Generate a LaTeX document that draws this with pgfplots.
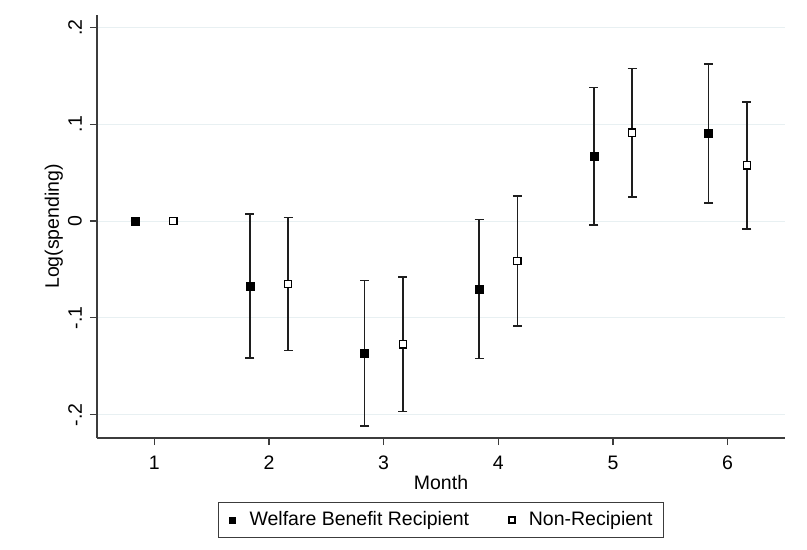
\documentclass[border=0pt]{standalone}
\usepackage{fontspec}
\setmainfont{Liberation Sans}
\usepackage{pgfplots}
\usepackage{pgfplotstable}
\pgfplotsset{compat=1.18}

\definecolor{gridc}{RGB}{232,240,242}
\definecolor{axc}{RGB}{60,60,60}
\definecolor{barc}{RGB}{30,30,30}

% Small single square in the legend
\pgfplotsset{sqlegend/.style={legend image code/.code={\draw[##1, mark size=3bp] plot coordinates {(0bp,0bp)};}}}

% Point estimates and half-widths of the confidence intervals
\pgfplotstableread{
x      y        e
0.8333  0.0000  0.0000
1.8333 -0.0671  0.0743
2.8333 -0.1366  0.0752
3.8333 -0.0702  0.0718
4.8333  0.0671  0.0709
5.8333  0.0902  0.0718
}\welfare

\pgfplotstableread{
x      y        e
1.1667  0.0000  0.0000
2.1667 -0.0650  0.0687
3.1667 -0.1273  0.0694
4.1667 -0.0413  0.0672
5.1667  0.0912  0.0663
6.1667  0.0575  0.0655
}\nonrecip

\begin{document}
\fontsize{19.5bp}{23bp}\selectfont
\begin{tikzpicture}[font=\fontsize{19.5bp}{23bp}\selectfont]
\useasboundingbox (-97bp,-112bp) rectangle (710bp,438bp);
\begin{axis}[
  at={(0,0)}, anchor=south west,
  scale only axis, width=688bp, height=423bp,
  xmin=0.5, xmax=6.5, ymin=-0.224, ymax=0.2127,
  axis x line*=bottom, axis y line*=left,
  axis line style={axc, line width=1.2bp},
  tick align=outside, major tick length=7bp,
  tick style={axc, line width=1.2bp},
  xtick={1,2,3,4,5,6}, xticklabels={1,2,3,4,5,6},
  ytick={-0.2,-0.1,0,0.1,0.2}, yticklabels={-.2,-.1,0,.1,.2},
  /pgf/number format/assume math mode=true,
  xticklabel style={anchor=north, inner sep=0pt},
  xticklabel shift=11bp,
  yticklabel style={rotate=90, anchor=south, inner sep=0pt},
  yticklabel shift=8bp,
  ymajorgrids, major grid style={gridc, line width=1bp},
  every axis x label/.style={at={(axis description cs:0.5,-0.087)}, anchor=north, inner sep=0pt},
  every axis y label/.style={at={(axis description cs:-0.0494,0.5)}, rotate=90, anchor=south, inner sep=0pt},
  xlabel={Month}, ylabel={Log(spending)},
  legend columns=2,
  legend cell align=left,
  legend style={at={(axis description cs:0.5,-0.1939)}, anchor=center,
    draw=axc, line width=1bp, inner xsep=11bp, inner ysep=9bp,
    nodes={inner sep=0pt},
    /tikz/every odd column/.append style={column sep=14bp},
    /tikz/every even column/.append style={column sep=39.7bp}},
]
\addplot[only marks, mark=square*, mark size=4bp,
  mark options={draw=black, fill=black, line width=0.6bp},
  sqlegend,
  error bars/.cd, y dir=both, y explicit,
  error bar style={barc, line width=1.6bp},
  error mark options={rotate=90, barc, mark size=4.5bp, line width=1.6bp}]
  table[x=x, y=y, y error=e] {\welfare};
\addlegendentry{Welfare Benefit Recipient}
\addplot[only marks, mark=square*, mark size=3.6bp,
  mark options={draw=black, fill=white, line width=1.2bp},
  sqlegend,
  error bars/.cd, y dir=both, y explicit,
  error bar style={barc, line width=1.6bp},
  error mark options={rotate=90, barc, mark size=4.5bp, line width=1.6bp}]
  table[x=x, y=y, y error=e] {\nonrecip};
\addlegendentry{Non-Recipient}
\end{axis}
\end{tikzpicture}
\end{document}
